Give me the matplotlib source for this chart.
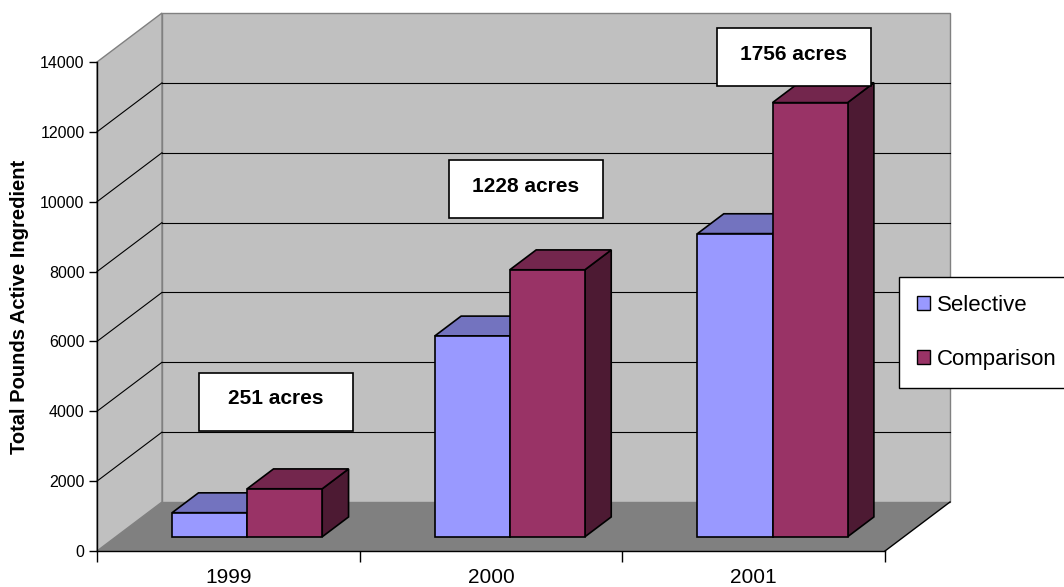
import matplotlib
matplotlib.use("Agg")
import matplotlib.pyplot as plt
from matplotlib.patches import Polygon, Rectangle, Patch

plt.rcParams['font.family'] = ['Liberation Sans', 'DejaVu Sans']

# data
years = ["1999", "2000", "2001"]
selective = [690, 5750, 8680]
comparison = [1375, 7645, 12430]
acres = ["251 acres", "1228 acres", "1756 acres"]
series_names = ["Selective", "Comparison"]

# colours (front, top, side)
sel_colors = ("#9999FF", "#7373BF", "#4D4D80")
cmp_colors = ("#993366", "#73264D", "#4D1A33")

W, H = 1064, 587
fig = plt.figure(figsize=(W / 100, H / 100), dpi=100)
ax = fig.add_axes([97 / W, 36 / H, 788 / W, 489 / H])
ax.set_xlim(0, 3)
ax.set_ylim(0, 14000)

# oblique depth offset (one full floor depth) in data units
DX = 65 / (788 / 3)
DY = 49 / (489 / 14000)


def proj(x, v, d):
    return (x + d * DX, v + d * DY)


def face(pts, fc, ec, lw=1.0, z=1):
    ax.add_patch(Polygon(pts, closed=True, facecolor=fc, edgecolor=ec,
                         linewidth=lw, clip_on=False, zorder=z))


# walls and floor
face([proj(0, 0, 1), proj(3, 0, 1), proj(3, 14000, 1), proj(0, 14000, 1)],
     "#C0C0C0", "#808080", z=0.5)
face([proj(0, 0, 0), proj(0, 0, 1), proj(0, 14000, 1), proj(0, 14000, 0)],
     "#C0C0C0", "#808080", z=0.5)
face([proj(0, 0, 0), proj(3, 0, 0), proj(3, 0, 1), proj(0, 0, 1)],
     "#808080", "none", z=0.6)
xs, ys = zip(proj(3, 0, 0), proj(3, 0, 1))
ax.plot(xs, ys, color="black", lw=1, clip_on=False, zorder=0.7)

# gridlines
for v in range(2000, 14000, 2000):
    xs, ys = zip(proj(0, v, 1), proj(3, v, 1))
    ax.plot(xs, ys, color="black", lw=0.8, clip_on=False, zorder=0.8)
    xs, ys = zip(proj(0, v, 0), proj(0, v, 1))
    ax.plot(xs, ys, color="black", lw=0.8, clip_on=False, zorder=0.8)

# bars
bw = 1 / 3.5
d0, d1 = 0.29, 0.695


def bar3d(x0, x1, v, colors, z):
    front, top, side = colors
    face([proj(x1, 0, d0), proj(x1, 0, d1), proj(x1, v, d1), proj(x1, v, d0)],
         side, "black", 1.2, z)
    face([proj(x0, v, d0), proj(x1, v, d0), proj(x1, v, d1), proj(x0, v, d1)],
         top, "black", 1.2, z)
    face([proj(x0, 0, d0), proj(x1, 0, d0), proj(x1, v, d0), proj(x0, v, d0)],
         front, "black", 1.2, z)


for i in range(len(years)):
    c = i + 0.5
    bar3d(c - bw, c, selective[i], sel_colors, 2)
    bar3d(c, c + bw, comparison[i], cmp_colors, 3)

# axes styling
for s in ["top", "right"]:
    ax.spines[s].set_visible(False)
for s in ["left", "bottom"]:
    ax.spines[s].set_linewidth(1.0)
    ax.spines[s].set_zorder(5)
ax.set_yticks(range(0, 14001, 2000))
ax.tick_params(axis="y", length=6, width=1, pad=3, labelsize=11.5)
ax.set_xticks([0, 1, 2, 3])
ax.set_xticklabels([])
ax.set_xticks([0.5, 1.5, 2.5], minor=True)
ax.set_xticklabels(years, minor=True)
ax.tick_params(axis="x", which="major", length=8, width=1)
ax.tick_params(axis="x", which="minor", length=0, pad=12, labelsize=15)
ax.set_facecolor("none")
ax.set_ylabel("Total Pounds Active Ingredient", fontsize=14.5, fontweight="bold")
ax.yaxis.set_label_coords(-0.086, 0.5)

# acreage boxes (pixel layout: left, top of box)
box_pos = [(199, 373), (449, 160), (717, 28)]
bw_px, bh_px = 154, 58
for (bx, by), txt in zip(box_pos, acres):
    fig.patches.append(Rectangle((bx / W, 1 - (by + bh_px) / H), bw_px / W, bh_px / H,
                                 transform=fig.transFigure, facecolor="white",
                                 edgecolor="black", linewidth=1.2, zorder=6))
    fig.text((bx + bw_px / 2) / W, 1 - (by + bh_px / 2 - 3) / H, txt,
             ha="center", va="center", fontsize=15, fontweight="bold", zorder=7)

# legend
handles = [Patch(facecolor=sel_colors[0], edgecolor="black", linewidth=1),
           Patch(facecolor=cmp_colors[0], edgecolor="black", linewidth=1)]
leg = fig.legend(handles, series_names, loc="upper left",
                 bbox_to_anchor=(899 / W, 1 - 277 / H), borderaxespad=0,
                 fontsize=16, frameon=True, fancybox=False, shadow=False,
                 framealpha=1, handlelength=0.6, handleheight=0.6,
                 handletextpad=0.3, labelspacing=1.5, borderpad=0.8)
leg.get_frame().set_facecolor("white")
leg.get_frame().set_edgecolor("black")
leg.get_frame().set_linewidth(1.0)

fig.savefig("out.png", dpi=100)
